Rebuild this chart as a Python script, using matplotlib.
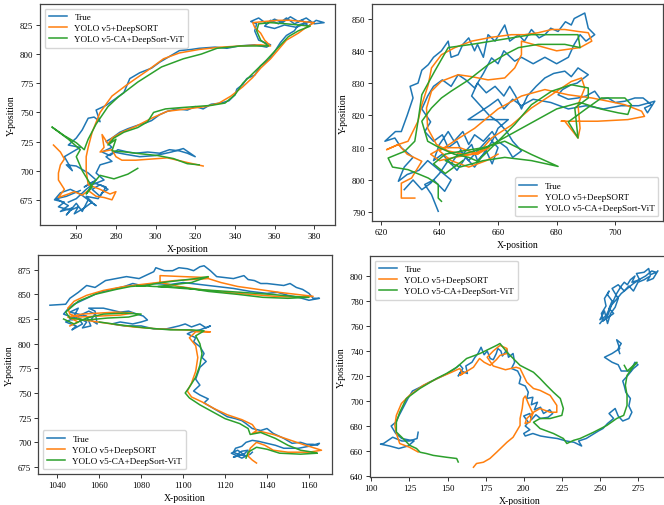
"""
Trajetorias: posicao real vs. dois rastreadores (4 alvos).
Salva out.png (664x506).
"""
import numpy as np
import matplotlib
matplotlib.use("Agg")
import matplotlib.pyplot as plt

plt.rcParams["font.family"] = "serif"
plt.rcParams["font.serif"] = ["Liberation Serif", "DejaVu Serif"]

LABELS = ["True", "YOLO v5+DeepSORT", "YOLO v5-CA+DeepSort-ViT"]
COLORS = ["#1f77b4", "#ff7f0e", "#2ca02c"]

# ---- painel 1 (superior esquerdo) ----
p1_true = [[(262, 683), (255, 678), (250, 676), (256, 670), (252, 665), (258, 668), (255, 662), (260, 672),
            (263, 665), (266, 675), (270, 670), (262, 680), (257, 684), (252, 681), (249, 675), (254, 673),
            (251, 669), (257, 666), (261, 669), (259, 663), (264, 668), (268, 673), (265, 678), (271, 676),
            (273, 681), (276, 684), (272, 688), (268, 684), (272, 678), (275, 686), (268, 690),
            (264, 686), (270, 692), (266, 698), (260, 704), (255, 705), (258, 700), (254, 712), (258, 716),
            (262, 720), (256, 722), (260, 728), (263, 735), (266, 745), (269, 746), (272, 742), (270, 752),
            (275, 756), (280, 762), (284, 767), (287, 779), (292, 784), (298, 788), (302, 793), (306, 797),
            (312, 803), (318, 804), (322, 805), (330, 806), (336, 805), (342, 807), (350, 808), (356, 806),
            (358, 808), (352, 812), (350, 820), (351, 826), (348, 828), (352, 831), (356, 826), (360, 830),
            (364, 827), (368, 832), (372, 828), (376, 831), (380, 826), (385, 827), (381, 829), (377, 824),
            (374, 829), (370, 826), (366, 831), (362, 826), (358, 829), (355, 824), (360, 822), (365, 825),
            (371, 823), (378, 828), (372, 825),
            (370, 820), (366, 816), (363, 810), (360, 802), (357, 795), (353, 790), (350, 782), (346, 779),
            (344, 774), (341, 770), (340, 765), (337, 760), (333, 758), (328, 757), (324, 753), (320, 755),
            (316, 752), (311, 753), (306, 751), (302, 748), (298, 743), (295, 741), (291, 739), (286, 736),
            (282, 733), (278, 728), (275, 725), (278, 720), (273, 716), (277, 713), (281, 718), (286, 716),
            (290, 715), (296, 716), (302, 715), (307, 718), (312, 717), (316, 715), (320, 712), (314, 719),
            (308, 716), (300, 713), (292, 712), (285, 714), (279, 716), (275, 712), (278, 708), (272, 705),
            (270, 698), (274, 692), (268, 688), (265, 684), (260, 676), (256, 673)]]
p1_v5 = [[(248.5, 722), (252, 716), (254, 710), (252, 705), (251, 698), (251, 692), (254, 684), (251, 677),
          (256, 680), (259, 682), (263, 679), (266, 683), (270, 678), (274, 677), (278, 675), (280, 682),
          (277, 680), (272, 684), (266, 688), (265, 700), (265, 712), (266, 720), (268, 733), (272, 750),
          (278, 764), (285, 773), (290, 779), (296, 786), (304, 796), (312, 801), (322, 804), (333, 806),
          (343, 807), (353, 808), (358, 807), (355, 812), (353, 818), (350, 823), (349, 827), (355, 828),
          (362, 829), (368, 829), (374, 828), (380, 827), (376, 823), (372, 818), (366, 812), (362, 804),
          (358, 796), (353, 788), (349, 780), (344, 772), (338, 764), (332, 758), (325, 755), (316, 753),
          (306, 751), (298, 745), (290, 738), (283, 733), (278, 728), (276, 723), (273, 731), (274, 720),
          (272, 716), (278, 718), (280, 712), (283, 709), (290, 709), (298, 710), (306, 711), (316, 707),
          (324, 704)]]
p1_ca = [[(291, 702), (286, 697), (279, 693), (272, 696), (268, 688), (265, 680), (268, 686), (263, 700),
          (260, 712), (262, 718), (256, 727), (247.7, 737.5), (254, 730), (260, 724), (264, 718), (266, 727),
          (270, 740), (276, 755), (281, 763), (291, 776), (303, 789), (314, 796), (323, 800), (331, 805),
          (343, 807), (357, 807), (353, 812), (351, 820), (352, 826), (358, 827), (366, 826), (372, 825),
          (378, 824), (372, 820), (367, 815), (362, 806), (356, 795), (350, 785), (344, 775), (340, 765),
          (335, 758), (328, 756), (320, 755), (312, 754), (305, 753), (299, 750), (296, 742), (291, 737),
          (284, 733), (279, 728), (276, 722), (280, 727), (278, 717), (285, 716), (292, 714.6), (301, 713),
          (309, 710.4), (316, 706), (322, 705)]]

# ---- painel 2 (superior direito) ----
p2_true = [[(639.6, 790.3), (637.3, 795.5), (635, 798.6), (638, 800), (641.8, 796.5), (644, 800), (640, 803),
            (636, 806), (633, 803), (629, 801.7), (626, 799.6), (628, 804), (631, 807), (627, 810),
            (624.8, 813), (621.4, 812), (625, 815), (627, 815), (629, 820), (631, 825.4), (630, 829),
            (632.7, 830), (634, 834), (636.2, 835.7), (638, 838), (640.7, 840), (643, 843), (644, 838),
            (646.4, 838.8), (648, 842), (650, 844), (652, 840), (653, 842), (655, 838), (656.6, 845),
            (659, 843), (662.3, 848), (664, 843), (667, 845), (669, 843), (671.4, 846.6), (674, 844),
            (676, 845), (678, 847), (680.5, 846), (683, 849), (685, 848), (686, 850), (689.6, 851.7),
            (690.8, 847), (693, 845), (690, 843), (688, 845), (686, 842), (684, 838), (680, 836), (676, 838),
            (672, 836), (668, 838), (665.7, 836.8), (662, 840), (660, 836), (657.8, 837.8), (655, 833),
            (652, 828.5), (649, 831), (646.4, 832.6), (644, 829), (641, 831), (638, 829), (636, 826),
            (634, 822), (637, 818), (635, 815), (638, 812), (641, 814), (643, 810), (646, 812), (648, 808),
            (651, 811), (653, 806), (656, 809), (658, 805), (660, 810), (657, 813), (654, 810), (650, 806),
            (647, 809), (644, 805), (641, 808), (638, 806), (640, 811), (643, 815), (645, 812), (648, 815),
            (650, 811), (652, 814), (655, 812), (658, 815), (660, 812), (663, 810), (665, 807), (668, 809),
            (665, 812), (663, 815), (660, 818), (657, 820), (654, 823), (651, 826), (653, 830), (656, 827),
            (659, 829), (662, 826), (664, 829), (666, 826), (668, 822), (670, 826), (673, 829), (676, 831.6),
            (679, 833), (682.8, 833.7), (685, 832), (687.3, 834.7), (690.8, 832.6), (687, 830), (685, 829.5),
            (682, 828), (680.5, 826.4), (684, 825), (687.3, 825.4), (690, 826), (693, 827.5), (695, 825),
            (697.6, 825.4), (700, 824), (703.3, 824.4), (706.7, 825.4), (709.5, 825.4), (712.4, 823.3),
            (710, 822.3), (711, 820.8), (713.5, 824.4), (708, 823), (702, 823), (696, 822), (690, 823),
            (684, 822), (678, 824), (672, 825), (668, 823), (665, 825), (662, 822), (660, 825), (657, 823),
            (652, 820), (649.8, 818.7), (663.5, 818.7), (660, 816), (658, 812), (655, 808), (652, 804),
            (649, 807), (646, 803), (643, 806), (640, 802), (637, 799), (634, 797), (631, 800), (628, 797)]]
p2_v5 = [[(631.6, 794.4), (627, 794.4), (627, 799), (630.5, 800.6), (634, 805.8), (629, 808), (626, 811),
          (622, 809.4), (626, 811), (629.3, 812), (632.7, 818.2), (634, 823.3), (636.2, 829.5),
          (637.3, 834.7), (640.7, 838.8), (645.3, 841), (651, 843), (657.8, 844.2), (664.6, 845), (669, 845),
          (673.7, 845.6), (678.3, 846.6), (682.8, 846.6), (687.3, 846), (690.8, 845.6), (692, 843), (688, 841),
          (680, 840), (672, 842), (668, 843), (668, 838.8), (665.7, 834.7), (662.3, 831.6), (656.6, 831),
          (651, 832), (646.4, 832.6), (640.7, 830.6), (637.3, 827.5), (635.6, 822.3), (636, 816), (639, 811),
          (643, 809), (648, 808), (653, 808), (657, 810), (651, 807.9), (645, 807), (640, 806), (637, 808),
          (641, 810), (647, 810), (653, 808), (657.8, 813), (664.6, 817), (671.4, 822.3), (678.3, 826.4),
          (685, 830.5), (688.5, 831.6), (689.6, 828.5), (687.3, 823.3), (688, 816), (687.3, 813),
          (682.8, 818.2), (681.6, 818.2), (694, 818.2), (704.3, 818.7), (710, 819.7), (709, 821.3),
          (703.3, 823.3), (697.6, 824.4), (692, 825.4), (683.9, 826.4), (676, 828), (668, 826), (660, 822),
          (652, 816), (645, 812), (640, 809), (644, 806), (650, 804), (656, 806), (660, 808)]]
p2_ca = [[(640.7, 793.4), (639.6, 794.4), (639.6, 798.6), (636.2, 800.6), (629.3, 803.2), (624, 804),
          (622.5, 806.8), (628.2, 808.9), (631.6, 812), (632.7, 818.2), (634, 826.4), (638.4, 833.7),
          (643, 841), (651, 842), (657.8, 843), (664.6, 844), (671.4, 845), (678.3, 845), (685, 845),
          (687.3, 845), (688, 841), (682.8, 842), (673.7, 842), (667, 841), (662.3, 838.8), (656.6, 835.7),
          (650, 831), (644, 827.5), (640.7, 825.4), (637.3, 822.3), (634, 818.2), (636, 812), (640, 810),
          (645, 808), (650, 807), (653, 805.8), (660, 812), (665.7, 817.2), (671.4, 823.3), (678.3, 827.5),
          (685, 829.5), (690.8, 828.5), (690.8, 825.4), (686.2, 822.3), (687.3, 813), (684, 818), (690, 822),
          (695.3, 825.4), (703.3, 825.4), (705.5, 823.3), (704.3, 820.3), (701, 820.8), (695, 822),
          (688, 824), (680, 822), (672, 818), (664, 814), (656, 810), (648, 808), (642, 806), (647, 804),
          (655, 806), (662.3, 807), (671.4, 806), (680.5, 804.2), (671.4, 807.9), (662.3, 812), (655, 810),
          (648, 809), (642, 808), (638, 805), (642, 802), (648, 806)]]

# ---- painel 3 (inferior esquerdo) ----
p3_true = [[(1036.5, 839), (1044, 840), (1046, 846), (1050, 852), (1054, 859), (1058, 857), (1063, 864),
            (1068, 866), (1073, 868), (1079, 866), (1082, 869), (1086, 873), (1087, 877), (1091, 874),
            (1095, 874), (1098, 877), (1102, 876), (1105, 874), (1108, 878), (1110, 879), (1113, 874),
            (1116, 868), (1120, 867), (1124, 866), (1129, 869), (1131, 865), (1134, 864), (1137, 861),
            (1140, 861), (1144, 860), (1148, 859), (1151, 861), (1154, 857), (1157, 855), (1160, 851),
            (1162, 846), (1165, 846), (1160, 844), (1155, 847), (1150, 849), (1145, 852), (1140, 851),
            (1132, 853), (1124, 856), (1116, 858), (1108, 860), (1100, 862), (1094, 860), (1086, 861),
            (1080, 859), (1076, 861), (1072, 858), (1068, 856), (1060, 852), (1054, 846), (1048, 840),
            (1045, 835), (1043, 830), (1048, 826), (1044, 822), (1049, 818), (1047, 814), (1052, 820),
            (1050, 826), (1054, 822), (1052, 816), (1056, 818), (1054, 828), (1046, 832), (1050, 836),
            (1047, 824), (1051, 829), (1055, 833), (1058, 830), (1056, 824), (1059, 820), (1058, 833),
            (1055, 836), (1062, 836), (1066, 834), (1070, 832), (1074, 833), (1078, 830), (1081, 828),
            (1083, 824), (1080, 822), (1076, 820), (1070, 822), (1066, 820), (1072, 818), (1080, 818),
            (1086, 815), (1092, 815), (1098, 818), (1101, 820), (1104, 817), (1108, 820), (1111, 816),
            (1113, 818), (1108, 814), (1104, 812), (1102, 810), (1106, 806), (1105, 802), (1108, 797),
            (1110, 790), (1109, 786), (1111, 782), (1108, 776), (1107, 770), (1106, 764), (1108, 758),
            (1105, 752), (1108, 748), (1112, 744), (1110, 740), (1114, 735), (1118, 730), (1121, 726),
            (1125, 724), (1128, 722), (1130, 719), (1133, 714), (1137, 712), (1140, 714), (1143, 709),
            (1146, 706), (1148, 704), (1152, 699), (1156, 700), (1159, 698), (1162, 698), (1164, 697),
            (1165, 699), (1160, 696), (1155, 694), (1148, 694), (1144, 697), (1140, 699), (1136, 701),
            (1133, 702), (1130, 700), (1128, 696), (1125, 694), (1124, 690), (1127, 687), (1124, 685),
            (1129, 688), (1131, 692), (1128, 691), (1126, 688), (1130, 686), (1126, 692), (1123, 689),
            (1128, 684), (1132, 688), (1133, 690)]]
p3_v5 = [[(1046, 818), (1050, 822), (1045, 827), (1052, 830), (1060, 831), (1068, 832), (1076, 831),
          (1070, 829), (1060, 828), (1050, 827), (1046, 830), (1045, 836), (1048, 843), (1054, 849),
          (1062, 854), (1072, 858), (1080, 860), (1088, 862), (1096, 864), (1104, 865), (1112, 866),
          (1118, 862), (1126, 858), (1136, 855), (1146, 852), (1154, 850), (1162, 848), (1155, 847),
          (1144, 848), (1132, 850), (1120, 852), (1108, 855), (1098, 858), (1089, 862), (1089, 869),
          (1100, 868), (1112, 867)],
         [(1046, 826), (1056, 823), (1066, 820), (1076, 817), (1088, 815), (1100, 814), (1113, 812),
          (1106, 812), (1103, 806), (1106, 798), (1107, 786), (1106, 772), (1104, 760), (1102, 752),
          (1104, 746), (1109, 741), (1115, 734), (1121, 728), (1128, 723), (1133, 718), (1135, 712),
          (1133, 709), (1137, 711), (1143, 708), (1150, 703), (1157, 698), (1163, 694), (1166, 692),
          (1160, 690), (1150, 690), (1143, 692), (1139, 697), (1135, 700), (1132, 694), (1131, 686),
          (1133, 682), (1135, 679)]]
p3_ca = [[(1043, 825), (1048, 820), (1054, 826), (1062, 830), (1072, 831), (1080, 830), (1074, 827),
          (1064, 826), (1054, 824), (1046, 826), (1044, 832), (1050, 843), (1058, 850), (1068, 855),
          (1075, 858), (1082, 859), (1090, 862), (1098, 864), (1106, 866), (1112, 868), (1104, 862),
          (1096, 860), (1088, 858), (1100, 856), (1114, 854), (1128, 852), (1142, 850), (1152, 848),
          (1160, 847), (1150, 846), (1138, 847), (1126, 850), (1112, 853), (1100, 857), (1086, 858),
          (1078, 859)],
         [(1060, 822), (1070, 819), (1082, 816), (1094, 814), (1104, 814), (1110, 813), (1106, 808),
          (1108, 800), (1109, 790), (1108, 778), (1106, 766), (1103, 756), (1101, 750), (1103, 745),
          (1108, 738), (1114, 731), (1120, 724), (1127, 719), (1131, 714), (1132, 708), (1137, 710),
          (1144, 704), (1150, 697), (1156, 692), (1162, 690), (1164, 689), (1156, 688), (1146, 689),
          (1140, 693), (1135, 695), (1131, 690), (1130, 684)]]

# ---- painel 4 (inferior direito) ----
p4_true = [[(130.7, 675), (130, 670), (125, 668), (120, 668), (114, 671), (108, 666), (106, 665.5), (112, 664),
            (118, 662), (124, 664), (128, 668), (120, 670), (116, 674), (113, 680), (116, 683), (118, 688),
            (121, 695), (124, 702), (127, 708), (132, 711), (138, 715), (145, 719), (150, 722), (155, 726),
            (158, 729), (160, 726), (157, 720), (159, 724), (163, 722), (162, 728), (166, 731), (168, 735),
            (170, 738), (172, 743), (174, 737), (176, 740), (178, 734), (180, 733), (182, 738), (183, 742),
            (185, 740), (186, 736), (189, 741), (190, 735), (193, 738), (194, 731), (192, 726), (196, 724),
            (198, 719), (197, 714), (201, 712), (203, 707), (202, 702), (206, 703), (205, 697), (209, 699),
            (207, 693), (211, 695), (213, 690), (217, 693), (219, 690), (216, 687), (211, 686), (208, 689),
            (205, 685), (204, 690), (200, 688), (203, 683), (201, 680), (204, 677), (200, 674), (201, 672),
            (206, 674), (211, 672), (216, 671), (222, 670), (228, 668), (233, 667), (238, 664), (236, 668),
            (241, 670), (245, 673), (249, 676), (252, 678), (255, 682), (259, 686), (256, 690), (260, 694),
            (262, 688), (265, 684), (269, 686), (271, 691), (269, 696), (270, 702), (267, 707), (266, 712),
            (265, 716), (268, 720), (272, 726), (275, 729), (273, 731), (270, 724), (264, 724), (262, 729),
            (258, 731), (253, 735), (258, 738), (263, 742), (261, 749), (264, 746), (262, 742), (263, 738)],
           [(250, 762), (252, 765), (251, 770), (254, 776), (253, 782), (256, 788), (255, 785), (258, 780),
            (256, 774), (259, 770), (252, 764), (255, 768), (258, 778), (261, 786), (264, 792), (266, 795),
            (268, 793), (270, 797), (273, 800), (271, 795), (276, 797), (274, 802), (279, 803), (282, 806),
            (283, 801), (287, 803), (284, 804), (280, 800), (277, 798), (272, 794), (268, 790), (264, 786),
            (260, 780), (257, 776), (254, 768), (250, 765), (253, 772), (255, 762), (257, 770), (260, 775),
            (262, 782), (258, 790), (262, 793), (266, 788), (269, 792), (272, 788), (275, 795), (279, 797),
            (283, 800), (281, 796), (285, 798), (288, 804)]]
p4_v5 = [[(130.7, 659.2), (125, 663), (118.6, 666), (116.4, 674), (115.4, 680.5), (116.4, 688.5),
          (119.7, 698), (125, 704.5), (134, 712.5), (145, 719), (152.6, 723), (158, 726), (160, 722),
          (158, 720.5), (163, 724), (167, 727), (171, 734), (174, 731), (178, 728.5), (182, 733),
          (184.4, 736.5), (189, 738), (189, 742), (184.4, 744.5), (180, 740), (176, 735), (180, 728),
          (188, 725), (195, 727), (197.6, 726), (200, 720), (202, 715), (206.4, 710), (210.7, 708.5),
          (217.3, 704.5), (221.7, 696.5), (221.7, 691), (217.3, 691), (210.7, 694), (206.4, 691), (202, 686),
          (200.9, 682), (204, 683), (206, 690), (203, 698), (201, 704), (199.8, 702), (199, 694),
          (197.6, 686), (197.6, 680.5), (193, 671), (189, 667), (182.2, 659), (177.8, 654), (173.5, 651),
          (169, 650), (167, 647)]]
p4_ca = [[(157, 651.2), (156, 654), (149.3, 655), (140.6, 656.5), (136, 658), (132, 659), (129.6, 662),
          (125.2, 664.5), (120.8, 670), (116.4, 675.2), (116.4, 683), (118.6, 691), (123, 702), (131.8, 710),
          (142.8, 718), (149.3, 722), (156, 727), (162.5, 734), (171.3, 738), (182.2, 744.5), (184.4, 746),
          (189, 739), (197.6, 728.5), (206.4, 723), (210.7, 718), (215, 712.5), (219.5, 707), (224, 702),
          (226, 694), (225, 688.5), (217.3, 686), (210.7, 686), (206.4, 683), (210.7, 678), (219.5, 674),
          (226, 670), (228.3, 666), (232.7, 668.5), (237, 670), (245.8, 675), (254.6, 680.5), (261, 686),
          (265.6, 688.5), (267.8, 696.5), (267.8, 704.5), (266.7, 712.5), (267.8, 720.5), (271, 726),
          (274.3, 731), (272, 728.5), (268, 724), (266, 728.5)]]

# posicao dos eixos em pixels (esq, dir, topo, base), limites e ticks
W, H = 664, 506
panels = [
    dict(box=(40, 335, 5, 226), tracks=(p1_true, p1_v5, p1_ca), xlim=(241.7, 390.5), ylim=(653.4, 843),
         xt=np.arange(260, 381, 20), yt=np.arange(675, 826, 25), leg="upper left"),
    dict(box=(372, 663, 5, 222), tracks=(p2_true, p2_v5, p2_ca), xlim=(617, 716.3), ylim=(787.3, 854.5),
         xt=np.arange(620, 701, 20), yt=np.arange(790, 851, 10), leg="lower right"),
    dict(box=(38, 332, 256, 475), tracks=(p3_true, p3_v5, p3_ca), xlim=(1030.8, 1171), ylim=(667.9, 889.9),
         xt=np.arange(1040, 1161, 20), yt=np.arange(675, 876, 25), leg="lower left"),
    dict(box=(370, 670, 257, 478), tracks=(p4_true, p4_v5, p4_ca), xlim=(99.1, 296), ylim=(639.2, 816),
         xt=np.arange(100, 276, 25), yt=np.arange(640, 801, 20), leg="upper left"),
]


def join(segs):
    out = []
    for s in segs:
        if out:
            out.append((np.nan, np.nan))
        out.extend(s)
    return np.array(out, dtype=float)


fig = plt.figure(figsize=(W / 100, H / 100), dpi=100)
for p in panels:
    l, r, t, b = p["box"]
    ax = fig.add_axes([l / W, 1 - b / H, (r - l) / W, (b - t) / H])
    for segs, lab, c in zip(p["tracks"], LABELS, COLORS):
        xy = join(segs)
        ax.plot(xy[:, 0], xy[:, 1], color=c, lw=1.1, label=lab)
    ax.set_xlim(*p["xlim"]); ax.set_ylim(*p["ylim"])
    ax.set_xticks(p["xt"]); ax.set_yticks(p["yt"])
    ax.tick_params(labelsize=6.3, length=2.8, width=0.7, pad=2, color="#333")
    for sp in ax.spines.values():
        sp.set_color("#444"); sp.set_linewidth(0.9)
    ax.set_xlabel("X-position", fontsize=7, labelpad=3)
    ax.set_ylabel("Y-position", fontsize=7, labelpad=3)
    ax.legend(loc=p["leg"], fontsize=6.6, handlelength=2.0, borderpad=0.45, labelspacing=0.3,
              fancybox=True, framealpha=0.8)

fig.savefig("out.png", dpi=100)
